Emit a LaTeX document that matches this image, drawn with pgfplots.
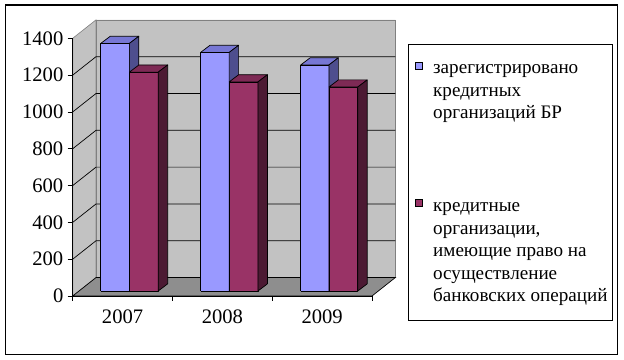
\documentclass[border=0pt]{standalone}
\usepackage{pgfplots}
\pgfplotsset{compat=1.18}
\usepackage{fontspec}
\setmainfont{Liberation Serif}
\newfontfamily\tnr{Liberation Serif}
\definecolor{barblue}{HTML}{9999FF}
\definecolor{bluetop}{HTML}{7777D4}
\definecolor{blueside}{HTML}{4E4E8E}
\definecolor{barred}{HTML}{993366}
\definecolor{redtop}{HTML}{7E2A55}
\definecolor{redside}{HTML}{4C1A33}
\definecolor{wall}{HTML}{C2C2C2}
\definecolor{floorc}{HTML}{8E8E8E}
\definecolor{walledge}{HTML}{808080}

% bar: left, right, value, front, top, side colours
\newcommand\cube[6]{%
\pgfmathsetmacro\xa{#1}%
\pgfmathsetmacro\xb{#2}%
\pgfmathsetmacro\xc{#1+0.095}%
\pgfmathsetmacro\xd{#2+0.095}%
\pgfmathsetmacro\ya{27}%
\pgfmathsetmacro\yb{#3+27}%
\pgfmathsetmacro\yc{66}%
\pgfmathsetmacro\yd{#3+66}%
\edef\cubenext{%
\noexpand\addplot[draw=black,fill=#4,line width=0.7pt,line join=round,forget plot] coordinates {(\xa,\ya) (\xb,\ya) (\xb,\yb) (\xa,\yb) (\xa,\ya)};
\noexpand\addplot[draw=black,fill=#5,line width=0.7pt,line join=round,forget plot] coordinates {(\xa,\yb) (\xb,\yb) (\xd,\yd) (\xc,\yd) (\xa,\yb)};
\noexpand\addplot[draw=black,fill=#6,line width=0.7pt,line join=round,forget plot] coordinates {(\xb,\ya) (\xd,\yc) (\xd,\yd) (\xb,\yb) (\xb,\ya)};
}\cubenext}

\begin{document}
\begin{tikzpicture}[font=\tnr]
\path[use as bounding box] (0,0) rectangle (624pt,359pt);
\fill[white] (0,0) rectangle (624pt,359pt);
\draw[black,line width=1.5pt] (5.7pt,354pt) rectangle (617.7pt,4.7pt);

\begin{axis}[
  scale only axis, width=299.3pt, height=257.7pt,
  at={(72.7pt,63pt)}, anchor=south west,
  xmin=0.5, xmax=3.5, ymin=0, ymax=1400,
  clip=false,
  axis x line*=bottom, axis y line*=left,
  axis line style={-, line width=0.8pt, black},
  xtick={0.5,1.5,2.5,3.5},
  xticklabels={\textrm{2007},\textrm{2008},\textrm{2009}},
  x tick label as interval,
  ytick={0,200,...,1400},
  tick align=outside, major tick length=5pt,
  tick style={black, line width=0.8pt},
  ticklabel style={font=\tnr\fontsize{20.6}{21}\selectfont},
  yticklabel style={inner sep=4.2pt},
  xticklabel style={yshift=-5pt},
  /pgf/number format/assume math mode=true,
  /pgf/number format/1000 sep={},
  axis on top,
]
% walls and floor
\addplot[draw=walledge, fill=wall, line width=0.6pt, forget plot] coordinates {(0.5,0) (0.7335,100) (0.7335,1500) (0.5,1400) (0.5,0)};
\addplot[draw=walledge, fill=wall, line width=0.6pt, forget plot] coordinates {(0.7335,100) (3.7335,100) (3.7335,1500) (0.7335,1500) (0.7335,100)};
\addplot[draw=black, fill=floorc, line width=0.7pt, forget plot] coordinates {(0.5,0) (3.5,0) (3.7335,100) (0.7335,100) (0.5,0)};
% gridlines
\addplot[black, line width=0.7pt, forget plot] coordinates {(0.5,200) (0.7335,300) (3.7335,300)};
\addplot[black, line width=0.7pt, forget plot] coordinates {(0.5,400) (0.7335,500) (3.7335,500)};
\addplot[black, line width=0.7pt, forget plot] coordinates {(0.5,600) (0.7335,700) (3.7335,700)};
\addplot[black, line width=0.7pt, forget plot] coordinates {(0.5,800) (0.7335,900) (3.7335,900)};
\addplot[black, line width=0.7pt, forget plot] coordinates {(0.5,1000) (0.7335,1100) (3.7335,1100)};
\addplot[black, line width=0.7pt, forget plot] coordinates {(0.5,1200) (0.7335,1300) (3.7335,1300)};
% bars
\cube{1-0.219}{1+0.068}{1345}{barblue}{bluetop}{blueside}
\cube{1+0.068}{1+0.357}{1189}{barred}{redtop}{redside}
\cube{2-0.219}{2+0.068}{1296}{barblue}{bluetop}{blueside}
\cube{2+0.068}{2+0.357}{1136}{barred}{redtop}{redside}
\cube{3-0.215}{3+0.068}{1228}{barblue}{bluetop}{blueside}
\cube{3+0.068}{3+0.357}{1108}{barred}{redtop}{redside}
\end{axis}

% legend
\draw[black, line width=0.8pt] (408.3pt,314.7pt) rectangle (612.3pt,39pt);
\filldraw[fill=barblue, draw=black, line width=0.5pt] (415.5pt,290pt) rectangle (422.5pt,297pt);
\filldraw[fill=barred, draw=black, line width=0.5pt] (415.5pt,153pt) rectangle (422.5pt,160pt);
\begin{scope}[every node/.style={anchor=base west, inner sep=0pt, font=\tnr\fontsize{19.1}{22.7}\selectfont}]
\node at (433pt,285.5pt) {зарегистрировано};
\node at (433pt,262.8pt) {кредитных};
\node at (433pt,240.1pt) {организаций БР};
\node at (433pt,147.3pt) {кредитные};
\node at (433pt,124.8pt) {организации,};
\node at (433pt,102.3pt) {имеющие право на};
\node at (433pt,79.8pt) {осуществление};
\node at (433pt,57.3pt) {банковских операций};
\end{scope}
\end{tikzpicture}
\end{document}
